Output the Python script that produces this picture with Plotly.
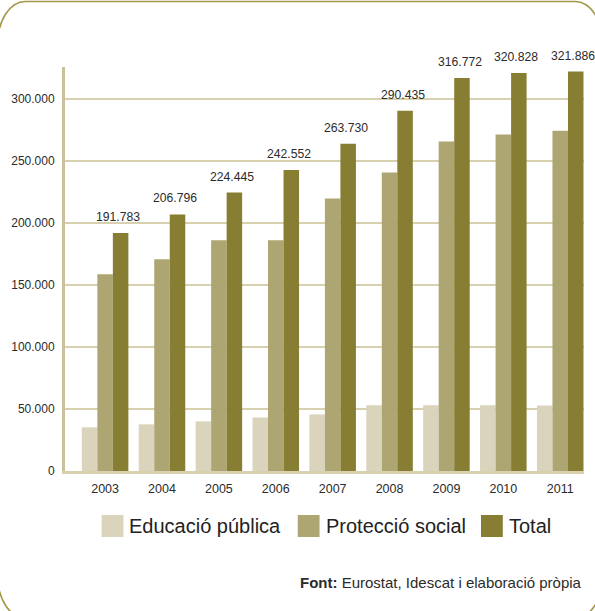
import plotly.graph_objects as go

# ---- data ----
years = ["2003", "2004", "2005", "2006", "2007", "2008", "2009", "2010", "2011"]
educacio = [35200, 37600, 40000, 43200, 45600, 52900, 52900, 52900, 52800]
proteccio = [158600, 170700, 186000, 186000, 219700, 240600, 265500, 271100, 274300]
total = [191783, 206796, 224445, 242552, 263730, 290435, 316772, 320828, 321886]
series_names = ["Educació pública", "Protecció social", "Total"]
y_tickvals = [0, 50000, 100000, 150000, 200000, 250000, 300000]
source_bold = "Font:"
source_text = "Eurostat, Idescat i elaboració pròpia"

# ---- style ----
W, H = 595, 611
ML, MR, MT, MB = 60, 11, 67, 140
colors = ["#d9d4bb", "#aea672", "#877e33"]
text_col = "#2b2b2b"
grid_col = "#d8d1b0"
axis_col = "#c9c19b"
frame_col = "#a39849"
FONT = "Liberation Sans, Arial, sans-serif"
BARGAP = 0.182
XR = [-0.705, 8.418]
YR = [0, 325600]

pw = W - ML - MR
ph = H - MT - MB


def px(x):
    return (x - ML) / pw


def py(y):
    return (H - MB - y) / ph


fig = go.Figure()
for name, vals, col in zip(series_names, [educacio, proteccio, total], colors):
    fig.add_trace(go.Bar(x=years, y=vals, name=name, marker=dict(color=col, line=dict(width=0)),
                         showlegend=False, hoverinfo="x+y+name"))

# value labels above the Total bars
unit_px = pw / (XR[1] - XR[0])
bar_px = unit_px * (1 - BARGAP) / 3
annotations = []
for i, v in enumerate(total):
    annotations.append(dict(x=i, y=v, xref="x", yref="y", text=f"{v:,}".replace(",", "."),
                            showarrow=False, xshift=bar_px - 2.5, yshift=7, yanchor="bottom",
                            font=dict(family=FONT, size=12.2, color=text_col)))

# manual legend (large squares)
legend_sq_x = [97, 295, 480]
sq = 22
leg_y = 526
shapes = []
for xs, name, col in zip(legend_sq_x, series_names, colors):
    shapes.append(dict(type="rect", xref="paper", yref="paper",
                       x0=px(xs), x1=px(xs + sq), y0=py(leg_y + sq / 2), y1=py(leg_y - sq / 2),
                       fillcolor=col, line=dict(width=0)))
    annotations.append(dict(x=px(xs + sq + 4), y=py(leg_y), xref="paper", yref="paper",
                            text=name, showarrow=False, xanchor="left", yanchor="middle",
                            font=dict(family=FONT, size=20, color="#222222")))

# source note
annotations.append(dict(x=px(584), y=py(582), xref="paper", yref="paper",
                        text=f"<b>{source_bold}</b> {source_text}", showarrow=False,
                        xanchor="right", yanchor="middle",
                        font=dict(family=FONT, size=15, color=text_col)))

# rounded frame (straight side edges outside the page, only the corners show)
fx0, fx1, fy0, fy1 = -8, 603, 1.5, 618
rx, ry = 28, 42
kx, ky = 0.5523 * rx, 0.5523 * ry


def P(a, b):
    return f"{px(a):.5f},{py(b):.5f}"


path = (
    f"M{P(fx0 + rx, fy0)} L{P(fx1 - rx, fy0)} "
    f"C{P(fx1 - rx + kx, fy0)} {P(fx1, fy0 + ry - ky)} {P(fx1, fy0 + ry)} "
    f"L{P(fx1, fy1 - ry)} "
    f"C{P(fx1, fy1 - ry + ky)} {P(fx1 - rx + kx, fy1)} {P(fx1 - rx, fy1)} "
    f"L{P(fx0 + rx, fy1)} "
    f"C{P(fx0 + rx - kx, fy1)} {P(fx0, fy1 - ry + ky)} {P(fx0, fy1 - ry)} "
    f"L{P(fx0, fy0 + ry)} "
    f"C{P(fx0, fy0 + ry - ky)} {P(fx0 + rx - kx, fy0)} {P(fx0 + rx, fy0)} Z"
)
shapes.append(dict(type="path", path=path, xref="paper", yref="paper",
                   line=dict(color=frame_col, width=1.6), layer="above"))

fig.update_layout(
    width=W, height=H, autosize=False,
    margin=dict(l=ML, r=MR, t=MT, b=MB, pad=0),
    paper_bgcolor="white", plot_bgcolor="white",
    barmode="group", bargap=BARGAP, bargroupgap=0,
    separators=",.",
    font=dict(family=FONT, color=text_col),
    xaxis=dict(type="category", range=XR, showgrid=False, showline=True, linecolor=grid_col,
               linewidth=2.5, ticks="", tickfont=dict(size=12.5, color=text_col),
               ticklabelstandoff=4, zeroline=False),
    yaxis=dict(range=YR, tickvals=y_tickvals, tickformat=",d", showgrid=True, gridcolor=grid_col,
               gridwidth=2, showline=True, linecolor=axis_col, linewidth=3, ticks="",
               tickfont=dict(size=12, color=text_col), ticklabelstandoff=5, zeroline=False),
    shapes=shapes,
    annotations=annotations,
)

fig.write_html("out.html", config={"displayModeBar": False},
               post_script="document.body.style.margin='0';document.body.style.overflow='hidden';")
